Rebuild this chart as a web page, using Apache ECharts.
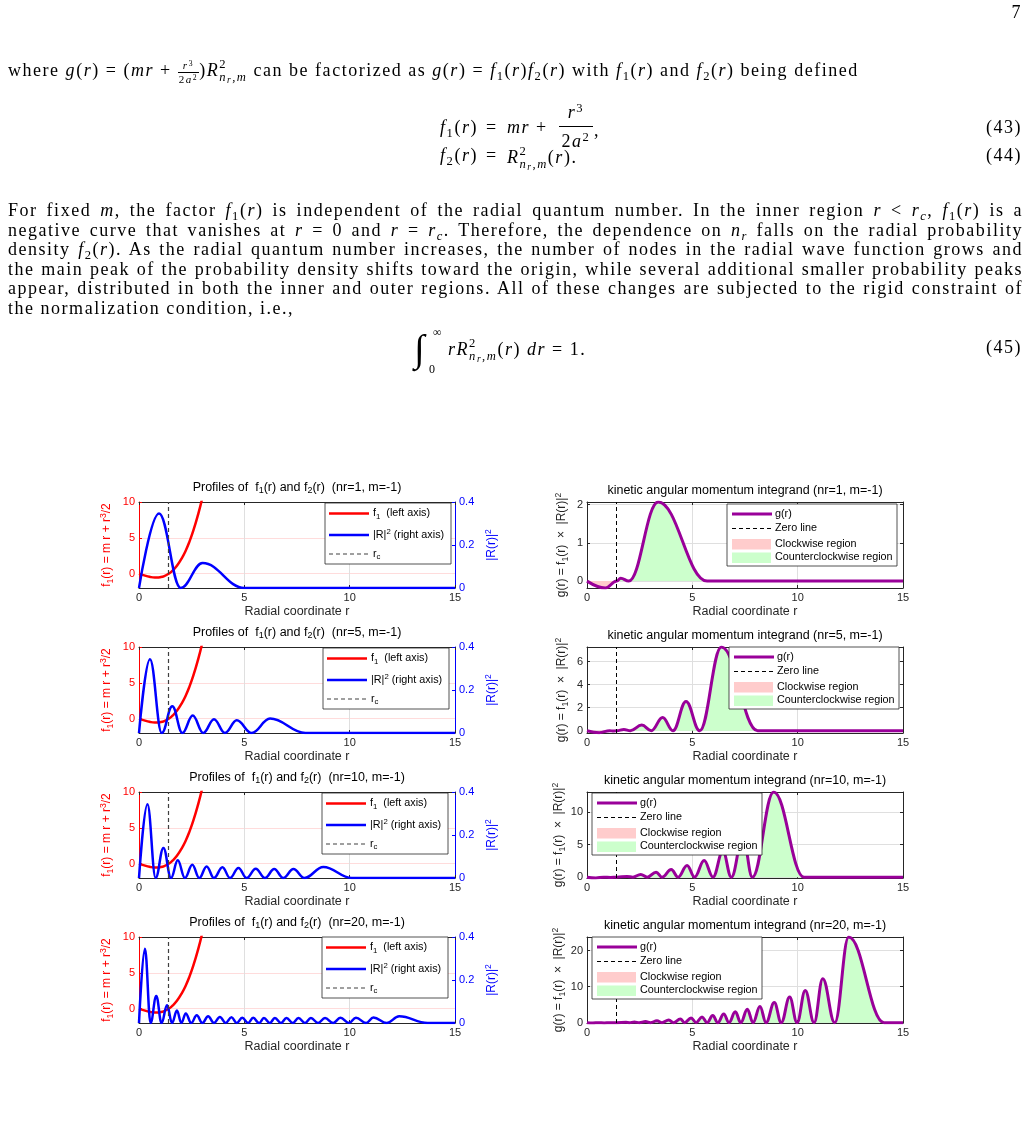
<!DOCTYPE html>
<html>
<head>
<meta charset="utf-8">
<script src="https://cdn.jsdelivr.net/npm/echarts@6/dist/echarts.min.js"></script>
<style>
  body { margin: 0; background: #fff; }
  #page { position: relative; width: 1031px; height: 1131px; overflow: hidden; }
  #chart { position: absolute; left: 0; top: 0; width: 1031px; height: 1131px; }
  #paper { position: absolute; left: 0; top: 0; width: 1031px; height: 460px;
           font-family: "Liberation Serif", "Times New Roman", serif; font-size: 18px; color: #000; }
  .ln { position: absolute; left: 8px; white-space: nowrap; line-height: 19.5px; }
  .jl { position: absolute; left: 8px; width: 1015px; line-height: 19.5px; white-space: nowrap;
        text-align: justify; text-align-last: justify; }
  .c { position: absolute; white-space: nowrap; line-height: 20px; }
  .num { position: absolute; right: 9px; line-height: 20px; }
  sub, sup { font-size: 70%; line-height: 0; }
  sub { vertical-align: -0.3em; }
  sup { vertical-align: 0.45em; }
  .fr { display: inline-block; vertical-align: middle; text-align: center; font-size: 11px; line-height: 1.1; }
  .fr > span { display: block; padding: 0 1px; }
  .fr > span:first-child { border-bottom: 1px solid #000; }
  .ss { display: inline-block; vertical-align: -0.4em; font-size: 70%; line-height: 1.05; }
  .ss > span { display: block; }
  .ss sub { font-size: 75%; vertical-align: -0.2em; }
</style>
</head>
<body>
<div id="page">
  <div id="chart"></div>

  <div id="paper">
  <div class="c" style="right:9px;top:2px">7</div>

  <div class="ln" id="l1" style="top:58px">where <i>g</i>(<i>r</i>) = (<i>mr</i> + <span class="fr"><span><i>r</i><sup>3</sup></span><span>2<i>a</i><sup>2</sup></span></span>)<i>R</i><span class="ss"><span>2</span><span><i>n<sub>r</sub></i>,<i>m</i></span></span> can be factorized as <i>g</i>(<i>r</i>) = <i>f</i><sub>1</sub>(<i>r</i>)<i>f</i><sub>2</sub>(<i>r</i>) with <i>f</i><sub>1</sub>(<i>r</i>) and <i>f</i><sub>2</sub>(<i>r</i>) being defined</div>

  <!-- (43) -->
  <div class="c" style="right:553px;top:117px"><i>f</i><sub>1</sub>(<i>r</i>)</div>
  <div class="c" style="left:486px;top:117px">=</div>
  <div class="c" style="left:507px;top:117px"><i>mr</i> +</div>
  <div class="c" style="left:558px;top:102px;width:36px;text-align:center"><i>r</i><sup>3</sup></div>
  <div style="position:absolute;left:559px;top:126px;width:34px;height:1px;background:#000"></div>
  <div class="c" style="left:558px;top:131px;width:36px;text-align:center">2<i>a</i><sup>2</sup></div>
  <div class="c" style="left:594px;top:120px">,</div>
  <div class="num" style="top:117px">(43)</div>

  <!-- (44) -->
  <div class="c" style="right:553px;top:145px"><i>f</i><sub>2</sub>(<i>r</i>)</div>
  <div class="c" style="left:486px;top:145px">=</div>
  <div class="c" style="left:507px;top:145px"><i>R</i><span class="ss"><span>2</span><span><i>n<sub>r</sub></i>,<i>m</i></span></span>(<i>r</i>).</div>
  <div class="num" style="top:145px">(44)</div>

  <div class="jl" style="top:201px">For fixed <i>m</i>, the factor <i>f</i><sub>1</sub>(<i>r</i>) is independent of the radial quantum number. In the inner region <i>r</i> &lt; <i>r<sub>c</sub></i>, <i>f</i><sub>1</sub>(<i>r</i>) is a</div>
  <div class="jl" style="top:220.6px">negative curve that vanishes at <i>r</i> = 0 and <i>r</i> = <i>r<sub>c</sub></i>. Therefore, the dependence on <i>n<sub>r</sub></i> falls on the radial probability</div>
  <div class="jl" style="top:240.2px">density <i>f</i><sub>2</sub>(<i>r</i>). As the radial quantum number increases, the number of nodes in the radial wave function grows and</div>
  <div class="jl" style="top:259.8px">the main peak of the probability density shifts toward the origin, while several additional smaller probability peaks</div>
  <div class="jl" style="top:279.4px">appear, distributed in both the inner and outer regions. All of these changes are subjected to the rigid constraint of</div>
  <div class="ln" style="top:299px">the normalization condition, i.e.,</div>

  <!-- (45) -->
  <div class="c" style="left:414px;top:326px;font-size:38px;line-height:44px">&int;</div>
  <div class="c" style="left:433px;top:322px;font-size:12px">&infin;</div>
  <div class="c" style="left:429px;top:359px;font-size:12px">0</div>
  <div class="c" style="left:448px;top:337px"><i>rR</i><span class="ss"><span>2</span><span><i>n<sub>r</sub></i>,<i>m</i></span></span>(<i>r</i>) <i>dr</i> = 1.</div>
  <div class="num" style="top:337px">(45)</div>
  </div>
</div>

<script>
// r_c, where f1 changes sign
const RC = 1.414;

// f1(r) (same in all four panels)
const f1R = [0, 0.25, 0.5, 0.75, 0.85, 1.0, 1.2, 1.414, 1.6, 1.8, 2.0, 2.2, 2.4, 2.6, 2.8, 3.0, 3.2];
const f1V = [0, -0.24, -0.44, -0.54, -0.54, -0.5, -0.34, 0, 0.45, 1.1, 2.0, 3.1, 4.5, 6.2, 8.2, 10.5, 13.2];

// |R|^2 : peaks and nodes of the blue curves
const r2Nr1R = [0, 0.95, 1.98, 3.02, 5.0, 15];
const r2Nr1V = [0, 0.346, 0, 0.116, 0, 0];
const r2Nr5R = [0, 0.52, 1.08, 1.58, 2.06, 2.55, 3.05, 3.56, 4.08, 4.64, 5.35, 6.22, 7.9, 15];
const r2Nr5V = [0, 0.343, 0, 0.124, 0, 0.081, 0, 0.064, 0, 0.059, 0, 0.067, 0, 0];
const r2Nr10R = [0, 0.40, 0.79, 1.16, 1.52, 1.84, 2.18, 2.53, 2.86, 3.21, 3.56, 3.96, 4.32, 4.72, 5.11,
                 5.54, 5.98, 6.42, 6.85, 7.33, 7.85, 8.75, 10.1, 15];
const r2Nr10V = [0, 0.343, 0, 0.14, 0, 0.082, 0, 0.062, 0, 0.054, 0, 0.05, 0, 0.047, 0,
                 0.043, 0, 0.042, 0, 0.042, 0, 0.051, 0, 0];
const r2Nr20R = [0, 0.28, 0.55, 0.82, 1.07, 1.33, 1.57, 1.80, 2.01, 2.22, 2.48, 2.74, 3.01, 3.28, 3.56,
                 3.84, 4.11, 4.39, 4.64, 4.90, 5.18, 5.42, 5.70, 5.93, 6.21, 6.45, 6.74, 7.00, 7.30,
                 7.57, 7.88, 8.16, 8.50, 8.83, 9.22, 9.56, 9.97, 10.30, 10.78, 11.13, 11.76, 12.35, 13.7, 15];
const r2Nr20V = [0, 0.345, 0, 0.126, 0, 0.082, 0, 0.058, 0, 0.044, 0, 0.036, 0, 0.031, 0,
                 0.028, 0, 0.027, 0, 0.025, 0, 0.024, 0, 0.023, 0, 0.023, 0, 0.023, 0,
                 0.023, 0, 0.023, 0, 0.023, 0, 0.024, 0, 0.025, 0, 0.026, 0, 0.031, 0, 0];

// g(r) = f1 * |R|^2 : peaks, dips and zeros of the purple curves
const gNr1R = [0, 0.87, 1.414, 1.6, 1.98, 3.38, 5.7, 15];
const gNr1V = [0, -0.18, 0, 0.077, 0, 2.07, 0, 0];
const gNr5R = [0, 0.58, 1.08, 1.25, 1.414, 1.75, 2.06, 2.6, 3.05, 3.59, 4.08, 4.7, 5.35, 6.38, 8.1, 15];
const gNr5V = [0, -0.17, 0, -0.03, 0, 0.1, 0, 0.49, 0, 1.15, 0, 2.54, 0, 7.27, 0, 0];
const gNr10R = [0, 0.42, 0.79, 1.12, 1.414, 1.9, 2.18, 2.55, 2.86, 3.28, 3.56, 4.0, 4.32, 4.75, 5.11,
                5.56, 5.98, 6.45, 6.85, 7.4, 7.85, 8.86, 10.3, 15];
const gNr10V = [0, -0.13, 0, -0.05, 0, 0.1, 0, 0.41, 0, 0.77, 0, 1.18, 0, 1.8, 0,
                2.56, 0, 4.0, 0, 6.2, 0, 13.08, 0, 0];
const gNr20R = [0, 0.28, 0.55, 0.82, 1.07, 1.3, 1.414, 1.85, 2.01, 2.25, 2.48, 2.78, 3.01, 3.32, 3.56,
                3.88, 4.11, 4.43, 4.64, 4.94, 5.18, 5.46, 5.70, 5.97, 6.21, 6.49, 6.74, 7.04, 7.30,
                7.61, 7.88, 8.21, 8.50, 8.89, 9.22, 9.62, 9.97, 10.36, 10.78, 11.19, 11.76, 12.42, 14.1, 15];
const gNr20V = [0, -0.09, 0, -0.07, 0, -0.01, 0, 0.08, 0, 0.15, 0, 0.3, 0, 0.5, 0,
                0.75, 0, 1.0, 0, 1.3, 0, 1.6, 0, 1.95, 0, 2.4, 0, 3.0, 0,
                3.7, 0, 4.5, 0, 5.6, 0, 7.1, 0, 8.9, 0, 12.2, 0, 23.8, 0, 0];

// tick labels
const xTicks = [0, 5, 10, 15];
const f1Ticks = [0, 5, 10];
const gTicks = [[0, 1, 2], [0, 2, 4, 6], [0, 5, 10], [0, 10, 20]];
const gLimits = [[-0.18, 2.07], [-0.2, 7.27], [-0.13, 13.08], [-0.1, 23.8]];
const nrList = [1, 5, 10, 20];

const r2Sets = [[r2Nr1R, r2Nr1V], [r2Nr5R, r2Nr5V], [r2Nr10R, r2Nr10V], [r2Nr20R, r2Nr20V]];
const gSets = [[gNr1R, gNr1V], [gNr5R, gNr5V], [gNr10R, gNr10V], [gNr20R, gNr20V]];

// widen the paper text a little so the justified lines are not gappy
(function fitText() {
  const paper = document.getElementById('paper');
  let ls = 3;
  document.querySelectorAll('.jl').forEach(el => {
    const s = document.createElement('span');
    s.innerHTML = el.innerHTML;
    s.style.cssText = 'position:absolute;white-space:nowrap;visibility:hidden;left:0;top:0';
    paper.appendChild(s);
    const w = s.getBoundingClientRect().width;
    const n = s.textContent.length;
    paper.removeChild(s);
    ls = Math.min(ls, (1004 - w) / n);
  });
  paper.style.letterSpacing = Math.max(0, ls).toFixed(3) + 'px';
})();

// ---- styling / layout ----
const INK = '#262626', RED = '#ff0000', BLUE = '#0000ff', PURPLE = '#990099';
const FONT = '"Liberation Sans", Arial, Helvetica, sans-serif';
const PW = 316, PH = 86;
const COL_X = [139, 587];
const ROW_Y = [502, 647, 792, 937];
const LEG_L = [[325, 503], [323, 648], [322, 793], [322, 937]];
const LEG_R = [[727, 504], [729, 647], [592, 793], [592, 937]];

function pairs(rs, vs) { return rs.map((r, i) => [r, vs[i]]); }

function rich(size, color) {
  return {
    a: {fontSize: size, fontFamily: FONT, color: color, fill: color},
    s: {fontSize: size * 0.72, fontFamily: FONT, color: color, fill: color, padding: [Math.round(size * 0.55), 0, 0, 0]},
    p: {fontSize: size * 0.72, fontFamily: FONT, color: color, fill: color, padding: [0, 0, Math.round(size * 0.6), 0]}
  };
}

const option = {animation: false, grid: [], xAxis: [], yAxis: [], series: [], graphic: {elements: []}};
const G = option.graphic.elements;

function frame(left, top) {
  const gi = option.grid.length;
  option.grid.push({left: left, top: top, width: PW, height: PH});
  const xi = option.xAxis.length;
  option.xAxis.push({
    gridIndex: gi, type: 'value', position: 'bottom', min: 0, max: 15, interval: 5,
    axisLine: {show: true, onZero: false, lineStyle: {color: INK, width: 1}},
    axisTick: {show: true, inside: true, length: 3, lineStyle: {color: INK}},
    axisLabel: {margin: 4, color: INK, fontSize: 11, fontFamily: FONT},
    splitLine: {show: true, lineStyle: {color: '#dfdfdf'}},
    name: 'Radial coordinate r', nameLocation: 'middle', nameGap: 17,
    nameTextStyle: {color: INK, fontSize: 12.5, fontFamily: FONT}
  });
  option.xAxis.push({
    gridIndex: gi, type: 'value', position: 'top', min: 0, max: 15, interval: 5,
    axisLine: {show: true, onZero: false, lineStyle: {color: INK, width: 1}},
    axisTick: {show: true, inside: true, length: 3, lineStyle: {color: INK}},
    axisLabel: {show: false}, splitLine: {show: false}
  });
  return {gi: gi, xi: xi};
}

function text(x, y, str, size, color, align) {
  G.push({type: 'text', x: x, y: y, z: 101,
    style: {text: str, rich: rich(size, color), fontSize: size, fontFamily: FONT, fill: color,
            align: align || 'left', verticalAlign: 'middle'}});
}
function sample(x, y, color, width, dash) {
  G.push({type: 'line', z: 101, shape: {x1: x, y1: y, x2: x + 40, y2: y},
    style: {stroke: color, lineWidth: width, lineDash: dash || null}});
}
function box(x, y, w, h) {
  G.push({type: 'rect', z: 100, shape: {x: x, y: y, width: w, height: h},
    style: {fill: '#fff', stroke: INK, lineWidth: 0.8}});
}

// ---- left column: f1 and |R|^2 ----
nrList.forEach((nr, k) => {
  const f = frame(COL_X[0], ROW_Y[k]);
  const yl = option.yAxis.length;
  option.yAxis.push({
    gridIndex: f.gi, type: 'value', position: 'left', min: -2, max: 10,
    axisLine: {show: true, onZero: false, lineStyle: {color: RED}},
    axisTick: {show: true, inside: true, length: 3, customValues: f1Ticks, lineStyle: {color: RED}},
    axisLabel: {customValues: f1Ticks, margin: 4, color: RED, fontSize: 11, fontFamily: FONT},
    splitLine: {show: true, lineStyle: {color: '#ffdcdc'}},
    name: '{a|f}{s|1}{a|(r) = m r + r}{p|3}{a|/2}', nameLocation: 'middle', nameGap: 24,
    nameTextStyle: {color: RED, fontSize: 12, fontFamily: FONT, rich: rich(12, RED)}
  });
  option.yAxis.push({
    gridIndex: f.gi, type: 'value', position: 'right', min: 0, max: 0.4, interval: 0.2,
    axisLine: {show: true, onZero: false, lineStyle: {color: BLUE}},
    axisTick: {show: true, inside: true, length: 3, lineStyle: {color: BLUE}},
    axisLabel: {margin: 4, color: BLUE, fontSize: 11, fontFamily: FONT},
    splitLine: {show: false},
    name: '{a||R(r)|}{p|2}', nameLocation: 'middle', nameGap: 29,
    nameTextStyle: {color: BLUE, fontSize: 12, fontFamily: FONT, rich: rich(12, BLUE)}
  });
  option.series.push({
    type: 'line', name: 'f1', xAxisIndex: f.xi, yAxisIndex: yl, data: pairs(f1R, f1V),
    symbol: 'none', smooth: true, z: 3, lineStyle: {color: RED, width: 2.5},
    markLine: {silent: true, symbol: ['none', 'none'], label: {show: false},
      lineStyle: {color: '#404040', width: 1.2, type: [4, 3]}, data: [{xAxis: RC}]}
  });
  option.series.push({
    type: 'line', name: '|R|^2', xAxisIndex: f.xi, yAxisIndex: yl + 1, data: pairs(r2Sets[k][0], r2Sets[k][1]),
    symbol: 'none', smooth: 0.4, smoothMonotone: 'x', z: 4, lineStyle: {color: BLUE, width: 2.5}
  });

  const cx = COL_X[0] + PW / 2;
  text(cx, ROW_Y[k] - 14.5, '{a|Profiles of  f}{s|1}{a|(r) and f}{s|2}{a|(r)  (nr=' + nr + ', m=-1)}', 12.5, '#000', 'center');

  const [lx, ly] = LEG_L[k];
  box(lx, ly, 126, 61);
  sample(lx + 4, ly + 10.5, RED, 2.5);
  text(lx + 48, ly + 10.5, '{a|f}{s|1}{a|  (left axis)}', 10.8, '#000');
  sample(lx + 4, ly + 32, BLUE, 2.5);
  text(lx + 48, ly + 32, '{a||R|}{p|2}{a| (right axis)}', 10.8, '#000');
  sample(lx + 4, ly + 51, '#404040', 1.2, [4, 3]);
  text(lx + 48, ly + 51, '{a|r}{s|c}', 10.8, '#000');
});

// ---- right column: g(r) ----
nrList.forEach((nr, k) => {
  const f = frame(COL_X[1], ROW_Y[k]);
  const [gr, gv] = gSets[k];
  const yl = option.yAxis.length;
  option.yAxis.push({
    gridIndex: f.gi, type: 'value', position: 'left', min: gLimits[k][0], max: gLimits[k][1],
    axisLine: {show: true, onZero: false, lineStyle: {color: INK}},
    axisTick: {show: true, inside: true, length: 3, customValues: gTicks[k], lineStyle: {color: INK}},
    axisLabel: {customValues: gTicks[k], margin: 4, color: INK, fontSize: 11, fontFamily: FONT},
    splitLine: {show: true, lineStyle: {color: '#dfdfdf'}},
    name: '{a|g(r) = f}{s|1}{a|(r)  ×  |R(r)|}{p|2}', nameLocation: 'middle', nameGap: 17,
    nameTextStyle: {color: INK, fontSize: 12, fontFamily: FONT, rich: rich(12, INK)}
  });
  option.yAxis.push({
    gridIndex: f.gi, type: 'value', position: 'right', min: gLimits[k][0], max: gLimits[k][1],
    axisLine: {show: true, onZero: false, lineStyle: {color: INK}},
    axisTick: {show: true, inside: true, length: 3, customValues: gTicks[k], lineStyle: {color: INK}},
    axisLabel: {show: false}, splitLine: {show: false}
  });
  option.series.push({
    type: 'line', name: 'ccw', xAxisIndex: f.xi, yAxisIndex: yl,
    data: pairs(gr, gv.map(v => Math.max(v, 0))), symbol: 'none', smooth: 0.4, smoothMonotone: 'x', z: 1,
    lineStyle: {width: 0}, areaStyle: {color: '#ccffcc', opacity: 1}
  });
  option.series.push({
    type: 'line', name: 'cw', xAxisIndex: f.xi, yAxisIndex: yl,
    data: pairs(gr, gv.map(v => Math.min(v, 0))), symbol: 'none', smooth: 0.4, smoothMonotone: 'x', z: 1,
    lineStyle: {width: 0}, areaStyle: {color: '#ffcccc', opacity: 1}
  });
  option.series.push({
    type: 'line', name: 'g(r)', xAxisIndex: f.xi, yAxisIndex: yl, data: pairs(gr, gv),
    symbol: 'none', smooth: 0.4, smoothMonotone: 'x', z: 4, lineStyle: {color: PURPLE, width: 3},
    markLine: {silent: true, symbol: ['none', 'none'], label: {show: false},
      lineStyle: {color: '#000', width: 1, type: [4, 3]}, data: [{xAxis: RC}]}
  });

  const cx = COL_X[1] + PW / 2;
  text(cx, ROW_Y[k] - 11, '{a|kinetic angular momentum integrand (nr=' + nr + ', m=-1)}', 12.5, '#000', 'center');

  const [lx, ly] = LEG_R[k];
  box(lx, ly, 170, 62);
  sample(lx + 5, ly + 10, PURPLE, 3);
  text(lx + 48, ly + 10, '{a|g(r)}', 10.8, '#000');
  sample(lx + 5, ly + 24.5, '#000', 1, [4, 3]);
  text(lx + 48, ly + 24.5, '{a|Zero line}', 10.8, '#000');
  G.push({type: 'rect', z: 101, shape: {x: lx + 5, y: ly + 35, width: 39, height: 10.5}, style: {fill: '#ffcccc'}});
  text(lx + 48, ly + 40, '{a|Clockwise region}', 10.8, '#000');
  G.push({type: 'rect', z: 101, shape: {x: lx + 5, y: ly + 48.5, width: 39, height: 10.5}, style: {fill: '#ccffcc'}});
  text(lx + 48, ly + 53.5, '{a|Counterclockwise region}', 10.8, '#000');
});

const chart = echarts.init(document.getElementById('chart'));
chart.setOption(option);
</script>
</body>
</html>
